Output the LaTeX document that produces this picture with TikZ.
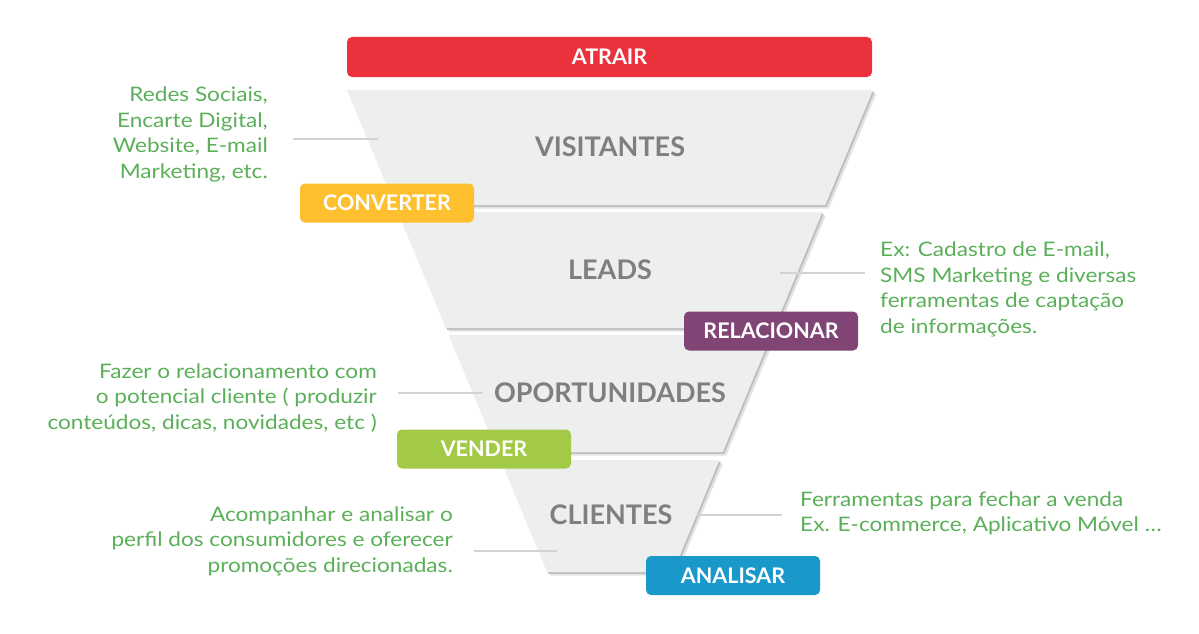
\documentclass[tikz,border=0pt]{standalone}
\usepackage{fontspec}
\setmainfont{Lato}
\newfontfamily\notefont[FakeStretch=1.13]{Lato}
\usepackage{xcolor}
\usepackage{tikz}
\usetikzlibrary{positioning}

\definecolor{atrair}{HTML}{EB323C}
\definecolor{converter}{HTML}{FEC02F}
\definecolor{relacionar}{HTML}{804475}
\definecolor{vender}{HTML}{A3CA46}
\definecolor{analisar}{HTML}{1A98CA}
\definecolor{notegreen}{HTML}{5AAF58}
\definecolor{stagegray}{HTML}{7F7F7F}
\definecolor{funnelgray}{HTML}{EDEEEE}
\definecolor{leadergray}{HTML}{D3D3D3}

\begin{document}
\begin{tikzpicture}[
    x=1pt, y=-1pt,
    stage/.style={text=stagegray, font=\fontsize{27}{30}\selectfont\bfseries},
    tag/.style={rectangle, rounded corners=5pt, minimum width=174pt, minimum height=39pt, text=white, font=\fontsize{21.5}{24}\selectfont\bfseries},
    note/.style={text=notegreen, inner sep=0pt, font=\notefont\fontsize{20}{25.5}\selectfont},
    leader/.style={draw=leadergray, line width=1.5pt}
]
\useasboundingbox (0,0) rectangle (1199,634);

% Funnel
\foreach \ya/\yb in {90/205, 212/328, 335/452, 460/572} {
  \pgfmathsetmacro{\lt}{347+0.415*(\ya-90)}
  \pgfmathsetmacro{\rt}{873-0.415*(\ya-90)}
  \pgfmathsetmacro{\lb}{347+0.415*(\yb-90)}
  \pgfmathsetmacro{\rb}{873-0.415*(\yb-90)}
  \fill[gray!22] (\lt+3.5,\ya+3.5) -- (\rt+3.5,\ya+3.5) -- (\rb+3.5,\yb+3.5) -- (\lb+3.5,\yb+3.5) -- cycle;
  \fill[gray!50] (\lt+1.5,\ya+1.8) -- (\rt+1.5,\ya+1.8) -- (\rb+1.5,\yb+1.8) -- (\lb+1.5,\yb+1.8) -- cycle;
  \fill[funnelgray] (\lt,\ya) -- (\rt,\ya) -- (\rb,\yb) -- (\lb,\yb) -- cycle;
}

% Stages
\node[stage] (visitantes) at (610,147) {VISITANTES};
\node[stage] (leads) at (610,270) {LEADS};
\node[stage] (oportunidades) at (610,393) {OPORTUNIDADES};
\node[stage] (clientes) at (611,515) {CLIENTES};

% Notes
\node[note, align=right, anchor=east] (redes) at (268,134.5) {Redes Sociais,\\Encarte Digital,\\Website, E-mail\\Marketing, etc.};
\node[note, align=left, anchor=west] (cadastro) at (880,289.5) {Ex: Cadastro de E-mail,\\SMS Marketing e diversas\\ferramentas de captação\\de informações.};
\node[note, align=right, anchor=east] (relacionamento) at (377,398) {Fazer o relacionamento com\\o potencial cliente ( produzir\\conteúdos, dicas, novidades, etc )};
\node[note, align=left, anchor=west] (ferramentas) at (800,513.5) {Ferramentas para fechar a venda\\Ex. E-commerce, Aplicativo Móvel …};
\node[note, align=right, anchor=east] (acompanhar) at (453,541) {Acompanhar e analisar o\\perfil dos consumidores e oferecer\\promoções direcionadas.};

% Leader lines
\coordinate (l1a) at (293,139);
\coordinate (l1b) at (378,139);
\coordinate (l2a) at (780,273);
\coordinate (l2b) at (865,273);
\coordinate (l3a) at (398,393);
\coordinate (l3b) at (483,393);
\coordinate (l4a) at (697,515);
\coordinate (l4b) at (782,515);
\coordinate (l5a) at (474,551);
\coordinate (l5b) at (557,551);
\draw[leader] (l1a) -- (l1b);
\draw[leader] (l2a) -- (l2b);
\draw[leader] (l3a) -- (l3b);
\draw[leader] (l4a) -- (l4b);
\draw[leader] (l5a) -- (l5b);

% Steps
\node[tag, fill=atrair, minimum width=525pt, minimum height=40pt] (atrairbox) at (609.5,57) {ATRAIR};
\node[tag, fill=converter] (converterbox) at (387,203) {CONVERTER};
\node[tag, fill=relacionar] (relacionarbox) at (771,331) {RELACIONAR};
\node[tag, fill=vender] (venderbox) at (484,449) {VENDER};
\node[tag, fill=analisar] (analisarbox) at (733,575.5) {ANALISAR};

\end{tikzpicture}
\end{document}
